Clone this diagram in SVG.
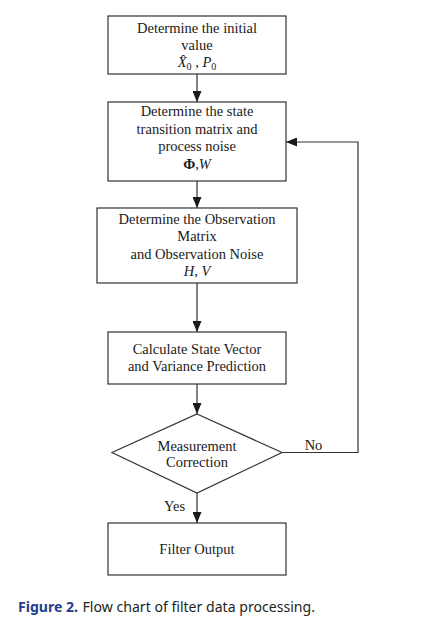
<svg xmlns="http://www.w3.org/2000/svg" width="440" height="636" viewBox="0 0 440 636">
<style>
.box{fill:#fff;stroke:#333;stroke-width:1.2}
.lbl{font-family:"Liberation Serif","Times New Roman",serif;font-size:14.5px;fill:#1a1a1a;text-anchor:middle}
.edge{fill:none;stroke:#333;stroke-width:1.2}
.cap{font-family:"Noto Sans","Open Sans",sans-serif;font-size:14.5px}
</style>
<defs>
<marker id="ah" markerUnits="userSpaceOnUse" markerWidth="11" markerHeight="9" refX="11" refY="4.5" orient="auto">
<path d="M0,0 L11,4.5 L0,9 z" fill="#1a1a1a"/>
</marker>
</defs>
<rect width="440" height="636" fill="#fff"/>
<g id="connectors">
<line class="edge" x1="197" y1="74" x2="197" y2="102" marker-end="url(#ah)"/>
<line class="edge" x1="197" y1="181" x2="197" y2="208" marker-end="url(#ah)"/>
<line class="edge" x1="197" y1="283" x2="197" y2="332" marker-end="url(#ah)"/>
<line class="edge" x1="197" y1="384" x2="197" y2="414" marker-end="url(#ah)"/>
<line class="edge" x1="197" y1="493" x2="197" y2="523" marker-end="url(#ah)"/>
<polyline class="edge" points="282,452.5 358,452.5 358,142 286,142" marker-end="url(#ah)"/>
<text class="lbl" x="313.5" y="450">No</text>
<text class="lbl" x="174.5" y="511">Yes</text>
</g>
<g id="n1">
<rect class="box" x="108" y="16" width="178" height="58"/>
<text class="lbl" x="197" y="33">Determine the initial</text>
<text class="lbl" x="197" y="50">value</text>
<text class="lbl" x="197" y="67"><tspan font-style="italic">X̂</tspan><tspan font-size="10" dy="3">0</tspan><tspan dy="-3"> , </tspan><tspan font-style="italic">P</tspan><tspan font-size="10" dy="3">0</tspan></text>
</g>
<g id="n2">
<rect class="box" x="108" y="102" width="178" height="79"/>
<text class="lbl" x="197" y="116">Determine the state</text>
<text class="lbl" x="197" y="133.5">transition matrix and</text>
<text class="lbl" x="197" y="151">process noise</text>
<text class="lbl" x="197" y="168.5"><tspan font-weight="bold">Φ</tspan>,<tspan font-style="italic">W</tspan></text>
</g>
<g id="n3">
<rect class="box" x="97" y="208" width="200" height="75"/>
<text class="lbl" x="197" y="224">Determine the Observation</text>
<text class="lbl" x="197" y="241.3">Matrix</text>
<text class="lbl" x="197" y="258.6">and Observation Noise</text>
<text class="lbl" x="197" y="276"><tspan font-style="italic">H</tspan>, <tspan font-style="italic">V</tspan></text>
</g>
<g id="n4">
<rect class="box" x="108" y="332" width="178" height="52"/>
<text class="lbl" x="197" y="353.5">Calculate State Vector</text>
<text class="lbl" x="197" y="371">and Variance Prediction</text>
</g>
<g id="n5">
<polygon class="box" points="197,414 282,452.5 197,493 112,452.5"/>
<text class="lbl" x="197" y="450.5">Measurement</text>
<text class="lbl" x="197" y="467">Correction</text>
</g>
<g id="n6">
<rect class="box" x="108" y="523" width="178" height="52"/>
<text class="lbl" x="197" y="554">Filter Output</text>
</g>
<text class="cap" x="18" y="611.5"><tspan font-weight="bold" fill="#233d8f" textLength="60" lengthAdjust="spacingAndGlyphs">Figure 2.</tspan><tspan fill="#231f20" x="82.5" textLength="232.5" lengthAdjust="spacingAndGlyphs">Flow chart of filter data processing.</tspan></text>
</svg>
